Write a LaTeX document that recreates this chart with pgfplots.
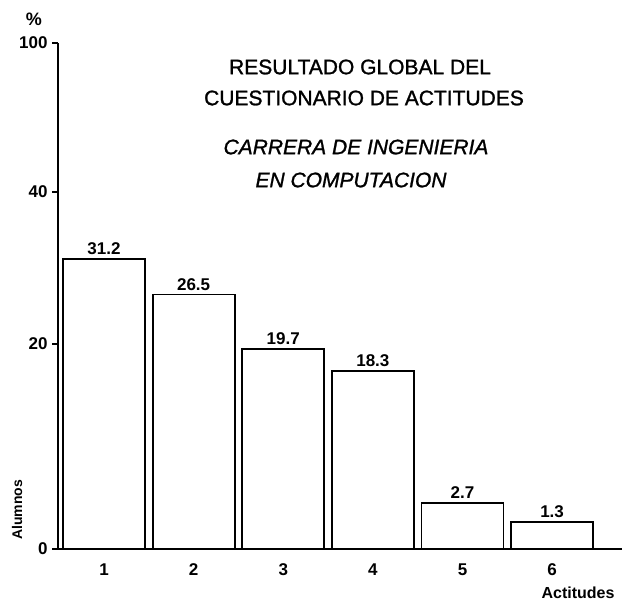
\documentclass[border=0pt]{standalone}
\usepackage{pgfplots}
\usepackage{pgfplotstable}
\pgfplotsset{compat=1.18}
\usepackage{fontspec}
\setmainfont{Liberation Sans}
\newfontfamily\titlefont[FakeBold=1.2]{Liberation Sans}

\pgfplotstableread{
x y lab
1 31.2 31.2
2 26.5 26.5
3 19.7 19.7
4 18.3 18.3
5 2.7 2.7
6 1.3 1.3
}\datatable

\begin{document}
\begin{tikzpicture}
\path[use as bounding box] (0pt,0pt) rectangle (623pt,-605pt);
\begin{axis}[
  at={(58pt,-549pt)}, anchor=south west,
  scale only axis, width=564pt, height=506pt,
  xmin=0.487, xmax=6.78,
  ymin=0, ymax=100,
  enlargelimits=false,
  % piecewise scale, as the hand-drawn axis of the original
  y coord trafo/.code={\pgfmathparse{#1<1.3 ? #1*20.77 : (#1<2.7 ? 27+(#1-1.3)*13.57 : (#1<18.3 ? 46+(#1-2.7)*8.462 : (#1<20 ? 178+(#1-18.3)*15.88 : (#1<40 ? 205+(#1-20)*7.6 : 357+(#1-40)*2.483))))}},
  y coord inv trafo/.code={\pgfmathparse{#1<27 ? #1/20.77 : (#1<46 ? 1.3+(#1-27)/13.57 : (#1<178 ? 2.7+(#1-46)/8.462 : (#1<205 ? 18.3+(#1-178)/15.88 : (#1<357 ? 20+(#1-205)/7.6 : 40+(#1-357)/2.483))))}},
  axis x line=bottom, axis y line=left,
  axis line style={-, line width=2.2pt, black},
  xtick={1,2,3,4,5,6},
  xticklabels={1,2,3,4,5,6},
  xtick style={draw=none},
  ytick={0,20,40,100},
  yticklabels={0,20,40,100},
  tick align=outside,
  major tick length=6pt,
  ytick style={line width=1.5pt, black},
  ticklabel style={font=\bfseries\fontsize{17}{17}\selectfont},
  xticklabel style={yshift=-5pt},
  yticklabel style={xshift=-1pt},
]
\addplot[ybar, draw=black, fill=white, line width=1.8pt, bar width=82pt,
  nodes near coords, point meta=explicit symbolic,
  nodes near coords style={font=\bfseries\fontsize{17}{17}\selectfont, anchor=south, yshift=0pt}]
  table[x=x, y=y, meta=lab] {\datatable};
\end{axis}
\node[font=\bfseries\fontsize{18}{18}\selectfont] at (34pt,-19pt) {\%};
\node[font=\bfseries\fontsize{14}{14}\selectfont, rotate=90] at (17pt,-510pt) {Alumnos};
\node[font=\bfseries\fontsize{16}{16}\selectfont] at (578pt,-593pt) {Actitudes};
\node[font=\titlefont\fontsize{21}{21}\selectfont] at (360pt,-67pt) {RESULTADO GLOBAL DEL};
\node[font=\titlefont\fontsize{21}{21}\selectfont] at (364pt,-98pt) {CUESTIONARIO DE ACTITUDES};
\node[font=\titlefont\itshape\fontsize{21}{21}\selectfont] at (356pt,-147pt) {CARRERA DE INGENIERIA};
\node[font=\titlefont\itshape\fontsize{21}{21}\selectfont] at (351pt,-180pt) {EN COMPUTACION};
\end{tikzpicture}
\end{document}
